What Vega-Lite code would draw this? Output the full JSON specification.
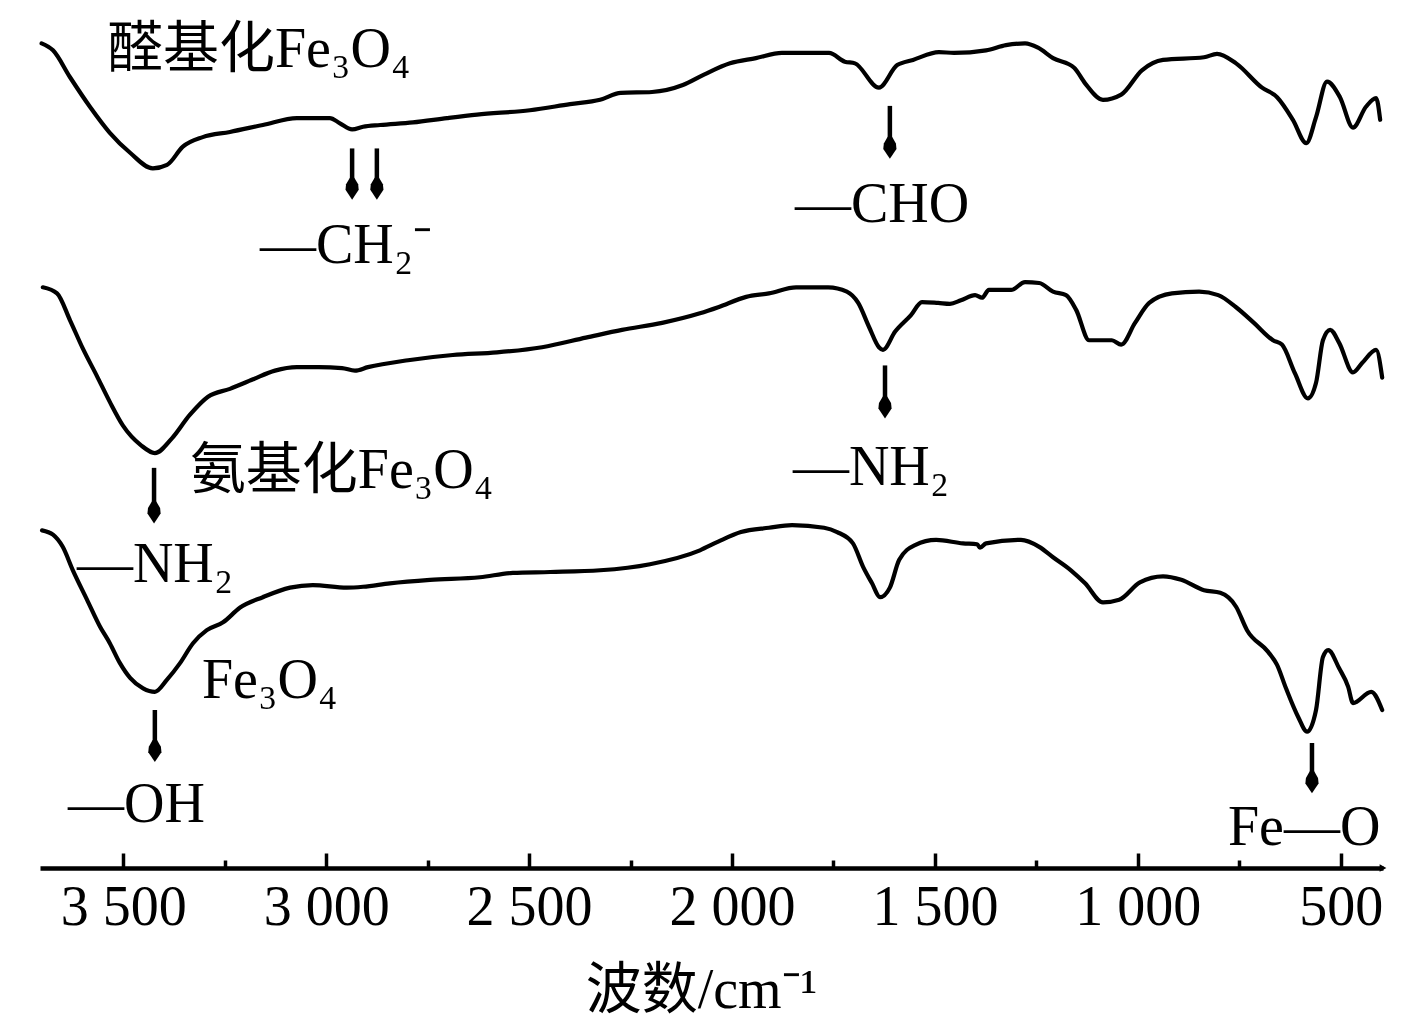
{
 "$schema": "https://vega.github.io/schema/vega-lite/v6.json",
 "width": 1343,
 "height": 868,
 "autosize": {"type": "none"},
 "padding": {"left": 40, "top": 0, "right": 34, "bottom": 160},
 "background": "white",
 "config": {"view": {"stroke": null}, "font": "Liberation Serif"},
 "datasets": {
  "curves": [
   {"series":"醛基化Fe3O4","wn":3701,"T":95.0},{"series":"醛基化Fe3O4","wn":3673,"T":94.2},{"series":"醛基化Fe3O4","wn":3631,"T":91.1},{"series":"醛基化Fe3O4","wn":3582,"T":87.7},{"series":"醛基化Fe3O4","wn":3533,"T":84.7},{"series":"醛基化Fe3O4","wn":3483,"T":82.4},{"series":"醛基化Fe3O4","wn":3427,"T":80.6},{"series":"醛基化Fe3O4","wn":3392,"T":81.0},{"series":"醛基化Fe3O4","wn":3353,"T":83.1},{"series":"醛基化Fe3O4","wn":3304,"T":84.2},{"series":"醛基化Fe3O4","wn":3237,"T":84.8},{"series":"醛基化Fe3O4","wn":3156,"T":85.6},{"series":"醛基化Fe3O4","wn":3072,"T":86.4},{"series":"醛基化Fe3O4","wn":2991,"T":86.4},{"series":"醛基化Fe3O4","wn":2966,"T":85.8},{"series":"醛基化Fe3O4","wn":2936,"T":85.1},{"series":"醛基化Fe3O4","wn":2909,"T":85.4},{"series":"醛基化Fe3O4","wn":2867,"T":85.6},{"series":"醛基化Fe3O4","wn":2786,"T":85.9},{"series":"醛基化Fe3O4","wn":2702,"T":86.4},{"series":"醛基化Fe3O4","wn":2628,"T":86.8},{"series":"醛基化Fe3O4","wn":2498,"T":87.3},{"series":"醛基化Fe3O4","wn":2399,"T":88.0},{"series":"醛基化Fe3O4","wn":2325,"T":88.5},{"series":"醛基化Fe3O4","wn":2274,"T":89.3},{"series":"醛基化Fe3O4","wn":2197,"T":89.4},{"series":"醛基化Fe3O4","wn":2121,"T":90.2},{"series":"醛基化Fe3O4","wn":2069,"T":91.4},{"series":"醛基化Fe3O4","wn":2005,"T":92.7},{"series":"醛基化Fe3O4","wn":1941,"T":93.3},{"series":"醛基化Fe3O4","wn":1877,"T":93.9},{"series":"醛基化Fe3O4","wn":1761,"T":93.9},{"series":"醛基化Fe3O4","wn":1722,"T":92.9},{"series":"醛基化Fe3O4","wn":1697,"T":92.7},{"series":"醛基化Fe3O4","wn":1638,"T":89.9},{"series":"醛基化Fe3O4","wn":1593,"T":92.5},{"series":"醛基化Fe3O4","wn":1554,"T":93.1},{"series":"醛基化Fe3O4","wn":1490,"T":94.0},{"series":"醛基化Fe3O4","wn":1453,"T":93.9},{"series":"醛基化Fe3O4","wn":1374,"T":94.2},{"series":"醛基化Fe3O4","wn":1325,"T":94.8},{"series":"醛基化Fe3O4","wn":1278,"T":95.0},{"series":"醛基化Fe3O4","wn":1246,"T":94.5},{"series":"醛基化Fe3O4","wn":1209,"T":93.3},{"series":"醛基化Fe3O4","wn":1157,"T":92.2},{"series":"醛基化Fe3O4","wn":1130,"T":90.4},{"series":"醛基化Fe3O4","wn":1086,"T":88.5},{"series":"醛基化Fe3O4","wn":1041,"T":89.1},{"series":"醛基化Fe3O4","wn":990,"T":91.9},{"series":"醛基化Fe3O4","wn":938,"T":93.1},{"series":"醛基化Fe3O4","wn":837,"T":93.4},{"series":"醛基化Fe3O4","wn":805,"T":93.8},{"series":"醛基化Fe3O4","wn":758,"T":92.7},{"series":"醛基化Fe3O4","wn":694,"T":89.9},{"series":"醛基化Fe3O4","wn":657,"T":88.8},{"series":"醛基化Fe3O4","wn":618,"T":86.2},{"series":"醛基化Fe3O4","wn":585,"T":83.5},{"series":"醛基化Fe3O4","wn":561,"T":86.5},{"series":"醛基化Fe3O4","wn":534,"T":90.6},{"series":"醛基化Fe3O4","wn":502,"T":88.8},{"series":"醛基化Fe3O4","wn":470,"T":85.3},{"series":"醛基化Fe3O4","wn":438,"T":87.7},{"series":"醛基化Fe3O4","wn":413,"T":88.7},{"series":"醛基化Fe3O4","wn":403,"T":86.2},
   {"series":"氨基化Fe3O4","wn":3698,"T":66.9},{"series":"氨基化Fe3O4","wn":3663,"T":66.2},{"series":"氨基化Fe3O4","wn":3631,"T":63.1},{"series":"氨基化Fe3O4","wn":3599,"T":59.8},{"series":"氨基化Fe3O4","wn":3565,"T":56.7},{"series":"氨基化Fe3O4","wn":3533,"T":53.7},{"series":"氨基化Fe3O4","wn":3501,"T":51.0},{"series":"氨基化Fe3O4","wn":3456,"T":48.7},{"series":"氨基化Fe3O4","wn":3422,"T":47.8},{"series":"氨基化Fe3O4","wn":3380,"T":49.5},{"series":"氨基化Fe3O4","wn":3336,"T":52.2},{"series":"氨基化Fe3O4","wn":3291,"T":54.3},{"series":"氨基化Fe3O4","wn":3237,"T":55.2},{"series":"氨基化Fe3O4","wn":3180,"T":56.3},{"series":"氨基化Fe3O4","wn":3126,"T":57.3},{"series":"氨基化Fe3O4","wn":3072,"T":57.7},{"series":"氨基化Fe3O4","wn":3018,"T":57.7},{"series":"氨基化Fe3O4","wn":2961,"T":57.6},{"series":"氨基化Fe3O4","wn":2929,"T":57.3},{"series":"氨基化Fe3O4","wn":2897,"T":57.7},{"series":"氨基化Fe3O4","wn":2798,"T":58.5},{"series":"氨基化Fe3O4","wn":2688,"T":59.1},{"series":"氨基化Fe3O4","wn":2579,"T":59.4},{"series":"氨基化Fe3O4","wn":2468,"T":60.0},{"series":"氨基化Fe3O4","wn":2360,"T":61.1},{"series":"氨基化Fe3O4","wn":2271,"T":62.0},{"series":"氨基化Fe3O4","wn":2172,"T":62.8},{"series":"氨基化Fe3O4","wn":2079,"T":63.9},{"series":"氨基化Fe3O4","wn":2034,"T":64.6},{"series":"氨基化Fe3O4","wn":1965,"T":65.8},{"series":"氨基化Fe3O4","wn":1909,"T":66.2},{"series":"氨基化Fe3O4","wn":1842,"T":66.9},{"series":"氨基化Fe3O4","wn":1763,"T":66.9},{"series":"氨基化Fe3O4","wn":1717,"T":66.4},{"series":"氨基化Fe3O4","wn":1689,"T":65.1},{"series":"氨基化Fe3O4","wn":1662,"T":62.3},{"series":"氨基化Fe3O4","wn":1638,"T":60.0},{"series":"氨基化Fe3O4","wn":1628,"T":59.7},{"series":"氨基化Fe3O4","wn":1598,"T":61.8},{"series":"氨基化Fe3O4","wn":1559,"T":63.7},{"series":"氨基化Fe3O4","wn":1532,"T":65.2},{"series":"氨基化Fe3O4","wn":1492,"T":65.1},{"series":"氨基化Fe3O4","wn":1463,"T":65.0},{"series":"氨基化Fe3O4","wn":1436,"T":65.4},{"series":"氨基化Fe3O4","wn":1401,"T":66.0},{"series":"氨基化Fe3O4","wn":1384,"T":65.7},{"series":"氨基化Fe3O4","wn":1367,"T":66.6},{"series":"氨基化Fe3O4","wn":1312,"T":66.6},{"series":"氨基化Fe3O4","wn":1278,"T":67.5},{"series":"氨基化Fe3O4","wn":1243,"T":67.4},{"series":"氨基化Fe3O4","wn":1209,"T":66.4},{"series":"氨基化Fe3O4","wn":1177,"T":66.0},{"series":"氨基化Fe3O4","wn":1152,"T":64.3},{"series":"氨基化Fe3O4","wn":1120,"T":60.8},{"series":"氨基化Fe3O4","wn":1064,"T":60.8},{"series":"氨基化Fe3O4","wn":1041,"T":60.3},{"series":"氨基化Fe3O4","wn":1007,"T":62.8},{"series":"氨基化Fe3O4","wn":972,"T":65.1},{"series":"氨基化Fe3O4","wn":916,"T":66.2},{"series":"氨基化Fe3O4","wn":849,"T":66.4},{"series":"氨基化Fe3O4","wn":802,"T":66.0},{"series":"氨基化Fe3O4","wn":758,"T":64.6},{"series":"氨基化Fe3O4","wn":714,"T":62.8},{"series":"氨基化Fe3O4","wn":667,"T":60.8},{"series":"氨基化Fe3O4","wn":645,"T":60.3},{"series":"氨基化Fe3O4","wn":613,"T":57.0},{"series":"氨基化Fe3O4","wn":581,"T":54.1},{"series":"氨基化Fe3O4","wn":561,"T":55.9},{"series":"氨基化Fe3O4","wn":544,"T":60.8},{"series":"氨基化Fe3O4","wn":526,"T":62.0},{"series":"氨基化Fe3O4","wn":504,"T":60.5},{"series":"氨基化Fe3O4","wn":470,"T":57.1},{"series":"氨基化Fe3O4","wn":447,"T":58.2},{"series":"氨基化Fe3O4","wn":413,"T":59.7},{"series":"氨基化Fe3O4","wn":398,"T":56.5},
   {"series":"Fe3O4","wn":3700,"T":38.9},{"series":"Fe3O4","wn":3673,"T":38.4},{"series":"Fe3O4","wn":3649,"T":37.0},{"series":"Fe3O4","wn":3624,"T":34.3},{"series":"Fe3O4","wn":3589,"T":30.9},{"series":"Fe3O4","wn":3557,"T":27.8},{"series":"Fe3O4","wn":3533,"T":25.9},{"series":"Fe3O4","wn":3508,"T":23.6},{"series":"Fe3O4","wn":3483,"T":21.9},{"series":"Fe3O4","wn":3451,"T":20.7},{"series":"Fe3O4","wn":3422,"T":20.3},{"series":"Fe3O4","wn":3392,"T":21.7},{"series":"Fe3O4","wn":3360,"T":23.6},{"series":"Fe3O4","wn":3328,"T":25.9},{"series":"Fe3O4","wn":3294,"T":27.4},{"series":"Fe3O4","wn":3254,"T":28.3},{"series":"Fe3O4","wn":3212,"T":30.0},{"series":"Fe3O4","wn":3156,"T":31.2},{"series":"Fe3O4","wn":3089,"T":32.3},{"series":"Fe3O4","wn":3033,"T":32.6},{"series":"Fe3O4","wn":2949,"T":32.3},{"series":"Fe3O4","wn":2909,"T":32.4},{"series":"Fe3O4","wn":2843,"T":32.8},{"series":"Fe3O4","wn":2744,"T":33.2},{"series":"Fe3O4","wn":2621,"T":33.5},{"series":"Fe3O4","wn":2540,"T":34.0},{"series":"Fe3O4","wn":2448,"T":34.1},{"series":"Fe3O4","wn":2325,"T":34.3},{"series":"Fe3O4","wn":2202,"T":35.0},{"series":"Fe3O4","wn":2079,"T":36.6},{"series":"Fe3O4","wn":2034,"T":37.6},{"series":"Fe3O4","wn":1978,"T":38.7},{"series":"Fe3O4","wn":1909,"T":39.2},{"series":"Fe3O4","wn":1852,"T":39.5},{"series":"Fe3O4","wn":1773,"T":39.2},{"series":"Fe3O4","wn":1741,"T":38.7},{"series":"Fe3O4","wn":1702,"T":37.4},{"series":"Fe3O4","wn":1677,"T":34.7},{"series":"Fe3O4","wn":1655,"T":32.8},{"series":"Fe3O4","wn":1635,"T":31.2},{"series":"Fe3O4","wn":1611,"T":32.3},{"series":"Fe3O4","wn":1588,"T":35.5},{"series":"Fe3O4","wn":1549,"T":37.2},{"series":"Fe3O4","wn":1497,"T":37.8},{"series":"Fe3O4","wn":1431,"T":37.4},{"series":"Fe3O4","wn":1396,"T":37.3},{"series":"Fe3O4","wn":1389,"T":36.9},{"series":"Fe3O4","wn":1374,"T":37.4},{"series":"Fe3O4","wn":1288,"T":37.8},{"series":"Fe3O4","wn":1243,"T":37.0},{"series":"Fe3O4","wn":1209,"T":35.8},{"series":"Fe3O4","wn":1165,"T":34.3},{"series":"Fe3O4","wn":1130,"T":32.8},{"series":"Fe3O4","wn":1086,"T":30.6},{"series":"Fe3O4","wn":1046,"T":30.9},{"series":"Fe3O4","wn":995,"T":32.9},{"series":"Fe3O4","wn":938,"T":33.6},{"series":"Fe3O4","wn":893,"T":33.2},{"series":"Fe3O4","wn":837,"T":32.0},{"series":"Fe3O4","wn":797,"T":31.7},{"series":"Fe3O4","wn":758,"T":30.1},{"series":"Fe3O4","wn":731,"T":27.4},{"series":"Fe3O4","wn":679,"T":24.9},{"series":"Fe3O4","wn":657,"T":23.4},{"series":"Fe3O4","wn":635,"T":20.7},{"series":"Fe3O4","wn":605,"T":17.4},{"series":"Fe3O4","wn":583,"T":15.7},{"series":"Fe3O4","wn":561,"T":18.2},{"series":"Fe3O4","wn":544,"T":24.3},{"series":"Fe3O4","wn":531,"T":25.1},{"series":"Fe3O4","wn":504,"T":23.0},{"series":"Fe3O4","wn":482,"T":20.9},{"series":"Fe3O4","wn":470,"T":19.0},{"series":"Fe3O4","wn":425,"T":20.3},{"series":"Fe3O4","wn":398,"T":18.2}
  ],
  "arrows": [
   {"wn":2936,"T":82.9,"T2":79.0,"tip":77.0},
   {"wn":2875,"T":82.9,"T2":79.0,"tip":77.0},
   {"wn":1611,"T":87.8,"T2":83.7,"tip":81.7},
   {"wn":1623,"T":57.9,"T2":53.8,"tip":51.8},
   {"wn":3424,"T":46.1,"T2":41.7,"tip":39.7},
   {"wn":3422,"T":18.2,"T2":14.2,"tip":12.2},
   {"wn":571,"T":14.4,"T2":10.6,"tip":8.6}
  ],
  "labels": [
   {"text":"醛基化Fe₃O₄","wn":3540,"T":92.3},
   {"text":"—CH₂⁻","wn":3163,"T":69.7},
   {"text":"—CHO","wn":1845,"T":74.4},
   {"text":"氨基化Fe₃O₄","wn":3336,"T":43.8},
   {"text":"—NH₂","wn":1850,"T":44.1},
   {"text":"—NH₂","wn":3614,"T":32.9},
   {"text":"Fe₃O₄","wn":3306,"T":19.6},
   {"text":"—OH","wn":3636,"T":5.3},
   {"text":"Fe—O","wn":778,"T":2.6}
  ],
  "axisEnd": [{"wn":396,"T":0}]
 },
 "layer": [
  {
   "data": {"name": "curves"},
   "mark": {"type": "line", "color": "black", "strokeWidth": 4.2, "strokeJoin": "round", "strokeCap": "round", "interpolate": "monotone"},
   "encoding": {
    "x": {"field": "wn", "type": "quantitative", "scale": {"domain": [3705, 396], "nice": false, "zero": false},
     "axis": {"values": [3500,3250,3000,2750,2500,2250,2000,1750,1500,1250,1000,750,500],
      "title": "波数/cm⁻¹", "grid": false,
      "domainColor": "black", "domainWidth": 4.5, "tickColor": "black", "tickWidth": 3.5,
      "tickSize": {"condition": {"test": "datum.value % 500 === 0", "value": -15}, "value": -8},
      "labelExpr": "datum.value % 500 === 0 ? replace(format(datum.value, ','), ',', ' ') : ''",
      "labelFont": "Liberation Serif", "labelFontSize": 56, "labelColor": "black", "labelBaseline": "alphabetic", "labelPadding": 71, "labelFlush": false, "labelOverlap": false,
      "titleFont": "Liberation Serif, Noto Sans CJK SC", "titleFontSize": 56, "titleFontWeight": "normal", "titleColor": "black",
      "titleX": 661, "titleY": 139, "titleBaseline": "alphabetic", "titleAlign": "center"}},
    "y": {"field": "T", "type": "quantitative", "scale": {"domain": [0, 100], "nice": false, "zero": false}, "axis": null},
    "detail": {"field": "series"}
   }
  },
  {
   "data": {"name": "arrows"},
   "mark": {"type": "rule", "color": "black", "strokeWidth": 4.5},
   "encoding": {
    "x": {"field": "wn", "type": "quantitative"},
    "y": {"field": "T", "type": "quantitative"},
    "y2": {"field": "T2"}
   }
  },
  {
   "data": {"name": "arrows"},
   "mark": {"type": "point", "filled": true, "color": "black", "opacity": 1, "size": 484,
    "shape": "M-0.2,-2 L0.2,-2 L0.55,-1.4 L0.6,-0.9 L0,0 L-0.6,-0.9 L-0.55,-1.4 Z"},
   "encoding": {
    "x": {"field": "wn", "type": "quantitative"},
    "y": {"field": "tip", "type": "quantitative"}
   }
  },
  {
   "data": {"name": "axisEnd"},
   "mark": {"type": "point", "filled": true, "color": "black", "opacity": 1, "size": 60, "shape": "triangle-right"},
   "encoding": {
    "x": {"field": "wn", "type": "quantitative"},
    "y": {"field": "T", "type": "quantitative"}
   }
  },
  {
   "data": {"name": "labels"},
   "mark": {"type": "text", "align": "left", "baseline": "alphabetic", "fontSize": 56, "font": "Liberation Serif, Noto Sans CJK SC", "color": "black"},
   "encoding": {
    "x": {"field": "wn", "type": "quantitative"},
    "y": {"field": "T", "type": "quantitative"},
    "text": {"field": "text"}
   }
  }
 ]
}
